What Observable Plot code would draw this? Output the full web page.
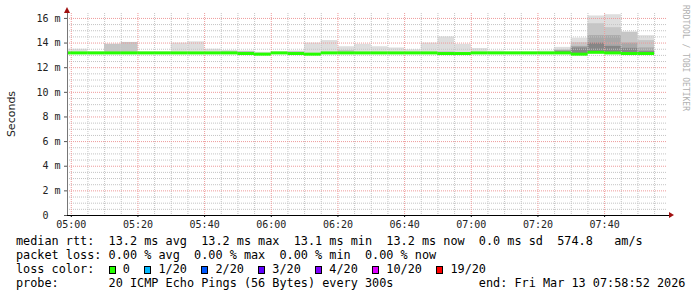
<!DOCTYPE html>
<html><head><meta charset="utf-8">
<script src="https://cdn.jsdelivr.net/npm/d3@7"></script>
<script src="https://cdn.jsdelivr.net/npm/@observablehq/plot@0.6"></script>
<style>
body{margin:0;background:#fff;}
#wrap{position:relative;width:697px;height:297px;overflow:hidden;background:#fff;}
#wrap svg{position:absolute;left:0;top:0;}
.leg{position:absolute;left:16px;font-family:"DejaVu Sans Mono",monospace;font-size:11.84px;line-height:14px;white-space:pre;color:#000;}
.sq{display:inline-block;box-sizing:border-box;width:1ch;height:8px;border:1px solid #000;vertical-align:-1px;}
</style></head><body><div id="wrap"></div>
<script>
// 5-minute buckets (start times), values in milliseconds
const bucketStart = ["04:55","05:00","05:05","05:10","05:15","05:20","05:25","05:30","05:35","05:40","05:45","05:50",
  "05:55","06:00","06:05","06:10","06:15","06:20","06:25","06:30","06:35","06:40","06:45","06:50",
  "06:55","07:00","07:05","07:10","07:15","07:20","07:25","07:30","07:35","07:40","07:45","07:50"];
const medianRtt = [13.2,13.2,13.2,13.2,13.2,13.2,13.2,13.2,13.2,13.2,13.2,13.15,
  13.1,13.2,13.15,13.1,13.2,13.2,13.2,13.2,13.2,13.2,13.2,13.15,
  13.15,13.2,13.2,13.2,13.2,13.2,13.2,13.1,13.25,13.2,13.15,13.15];
const smokeMax = [13.5,13.5,13.3,13.9,14.05,13.3,13.3,14.0,14.1,13.5,13.4,13.35,
  13.25,13.3,13.35,14.0,14.2,13.7,13.9,13.7,13.6,13.45,14.0,14.5,
  13.9,13.55,13.35,13.3,13.3,13.35,13.65,14.4,16.2,16.3,14.9,14.6];
const smokeP90 = [13.2,13.2,13.2,13.9,14.05,13.2,13.2,13.2,13.2,13.2,13.3,13.3,
  13.1,13.2,13.3,13.1,13.2,13.4,13.2,13.2,13.2,13.2,13.2,13.3,
  13.15,13.2,13.2,13.2,13.2,13.2,13.45,14.03,15.57,15.25,14.87,14.2];
const smokeP75 = [13.2,13.2,13.2,13.2,13.2,13.2,13.2,13.2,13.2,13.2,13.2,13.25,
  13.1,13.2,13.15,13.1,13.2,13.2,13.2,13.2,13.2,13.2,13.2,13.15,
  13.15,13.2,13.2,13.2,13.2,13.2,13.4,13.73,14.6,14.6,14.0,13.6];
const smokeP60 = [13.2,13.2,13.2,13.2,13.2,13.2,13.2,13.2,13.2,13.2,13.2,13.15,
  13.1,13.2,13.15,13.1,13.2,13.2,13.2,13.2,13.2,13.2,13.2,13.15,
  13.15,13.2,13.2,13.2,13.2,13.2,13.3,13.6,14.0,13.73,13.57,13.3];
const smokeMin = [13.12,13.12,13.12,13.12,13.12,13.12,13.12,13.12,13.12,13.12,13.12,13.05,
  13.02,13.12,13.07,13.02,13.12,13.12,13.12,13.12,13.12,13.12,13.12,13.0,
  13.0,13.12,13.12,13.12,13.12,13.12,13.12,13.02,13.15,13.12,13.07,13.07];
const yTicks = [0,2,4,6,8,10,12,14,16];
const xTickLabels = ["05:00","05:20","05:40","06:00","06:20","06:40","07:00","07:20","07:40"];
const lossLabels = ["0","1/20","2/20","3/20","4/20","10/20","19/20"];
const lossColors = ["#26ff00","#00b8ff","#0059ff","#5e00ff","#7e00ff","#dd00ff","#ff0000"];

const day = (h,m,s=0) => new Date(Date.UTC(2026,2,13,h,m,s));
const parseHM = s => day(+s.slice(0,2), +s.slice(3,5));
const rows = bucketStart.map((t,i) => {
  const st = parseHM(t);
  return {start: st, end: new Date(st.getTime()+300000), median: medianRtt[i], max: smokeMax[i],
    p90: smokeP90[i], p75: smokeP75[i], p60: smokeP60[i], min: smokeMin[i]};
});
const xStart = day(4,58,52), xEnd = day(7,58,52);
const yTop = 16.4;
const minorX = d3.utcMinute.every(5).range(day(5,0), xEnd);
const majorX = xTickLabels.map(parseHM);
const minorY = d3.range(0.5, yTop, 0.5).filter(v => v % 2 !== 0);
const majorY = yTicks.filter(v => v > 0);

const plot = Plot.plot({
  width: 697, height: 233,
  marginLeft: 67, marginRight: 30, marginTop: 13, marginBottom: 18,
  style: {fontFamily: "'DejaVu Sans Mono', monospace", fontSize: "10px", color: "#222", background: "transparent"},
  x: {type: "utc", domain: [xStart, xEnd]},
  y: {domain: [0, yTop]},
  marks: [
    Plot.rect(rows, {x1: "start", x2: "end", y1: "min", y2: "max", fill: "#dedede", clip: true}),
    Plot.rect(rows, {x1: "start", x2: "end", y1: "min", y2: "p90", fill: "#c6c6c6", clip: true}),
    Plot.rect(rows, {x1: "start", x2: "end", y1: "min", y2: "p75", fill: "#a8a8a8", clip: true}),
    Plot.rect(rows, {x1: "start", x2: "end", y1: "min", y2: "p60", fill: "#868686", clip: true}),
    Plot.ruleX(minorX.filter(d => d.getUTCMinutes() % 20 !== 0), {stroke: "#c4c4c4", strokeDasharray: "1,1"}),
    Plot.ruleY(minorY, {stroke: "#c4c4c4", strokeDasharray: "1,1"}),
    Plot.ruleX(majorX, {stroke: "#ee9a9a", strokeDasharray: "1,1"}),
    Plot.ruleY(majorY, {stroke: "#ee9a9a", strokeDasharray: "1,1"}),
    Plot.ruleY(rows, {x1: "start", x2: "end", y: "median", stroke: lossColors[0], strokeWidth: 3, clip: true}),
    Plot.axisX({ticks: majorX, tickFormat: d3.utcFormat("%H:%M"), tickSize: 2, tickPadding: 3, stroke: "#000", label: null}),
    Plot.axisY({ticks: yTicks, tickFormat: d => d === 0 ? "0\u00a0\u00a0" : d + " m", tickSize: 3, tickPadding: 4, stroke: "#555", label: null}),
    Plot.ruleX([xStart], {stroke: "#777", strokeWidth: 1}),
    Plot.ruleY([0], {stroke: "#000", strokeWidth: 1})
  ]
});
const wrap = document.getElementById("wrap");
wrap.appendChild(plot);
const svg = d3.select(plot);
const sx = plot.scale("x"), sy = plot.scale("y");
const ax = sx.apply(xStart), ay = sy.apply(0), topY = sy.apply(yTop), rightX = sx.apply(xEnd);
// extend x axis slightly and arrows
svg.append("line").attr("x1", rightX).attr("x2", rightX + 3).attr("y1", ay + 0.5).attr("y2", ay + 0.5).attr("stroke", "#000");
svg.append("path").attr("d", `M${ax-3},${topY} L${ax+3},${topY} L${ax},${topY-6} Z`).attr("fill", "#a01010");
svg.append("path").attr("d", `M${rightX+2},${ay-3} L${rightX+2},${ay+3} L${rightX+7},${ay} Z`).attr("fill", "#a01010");
svg.append("text").attr("transform", `translate(11,114) rotate(-90)`).attr("text-anchor", "middle")
  .attr("dy", "0.35em").attr("font-family", "'DejaVu Sans', sans-serif").attr("font-size", 11).attr("fill", "#222").text("Seconds");
svg.append("text").attr("transform", `translate(686,5) rotate(90)`).attr("text-anchor", "start")
  .attr("dy", "0.35em").attr("font-family", "'DejaVu Sans Mono', monospace").attr("font-size", 8).attr("fill", "#b0b0b0").text("RRDTOOL / TOBI OETIKER");

// legend
const lines = [
  "median rtt:  13.2 ms avg  13.2 ms max  13.1 ms min  13.2 ms now  0.0 ms sd  574.8   am/s",
  "packet loss: 0.00 % avg  0.00 % max  0.00 % min  0.00 % now",
  null,
  "probe:       20 ICMP Echo Pings (56 Bytes) every 300s            end: Fri Mar 13 07:58:52 2026"
];
const centers = [240.7, 255, 269, 283.3];
lines.forEach((txt, i) => {
  const div = document.createElement("div");
  div.className = "leg";
  div.style.top = (centers[i] - 7) + "px";
  if (txt !== null) div.textContent = txt;
  else {
    let html = "loss color:  ";
    lossLabels.forEach((l, k) => {
      html += `<span class="sq" style="background:${lossColors[k]}"></span> ${l}` + (k < lossLabels.length - 1 ? "  " : "");
    });
    div.innerHTML = html;
  }
  wrap.appendChild(div);
});
</script></body></html>
